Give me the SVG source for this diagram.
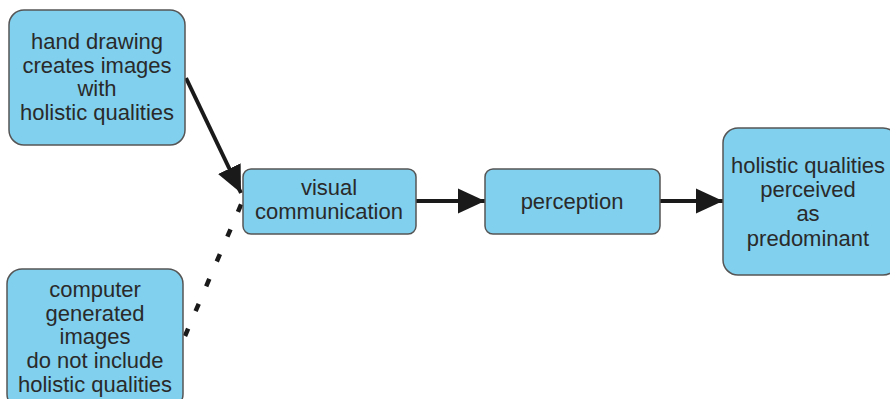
<svg xmlns="http://www.w3.org/2000/svg" width="890" height="399" viewBox="0 0 890 399">
<defs>
<style>
.box{fill:#80d0ee;stroke:#555;stroke-width:1.5}
text{font-family:"Liberation Sans",Arial,sans-serif;font-size:22px;fill:#2a2a2a;text-anchor:middle}
.ln{stroke:#1a1a1a;stroke-width:4;fill:none}
.dot{stroke:#1a1a1a;stroke-width:4.5;fill:none;stroke-dasharray:8 19}
</style>
<marker id="ah" markerUnits="userSpaceOnUse" markerWidth="28" markerHeight="28" viewBox="0 0 28 28" refX="27" refY="14" orient="auto">
<path d="M0,1.5 L27,14 L0,26.5 Z" fill="#1a1a1a"/>
</marker>
</defs>
<rect width="890" height="399" fill="#fff"/>
<g id="connectors">
<line class="ln" x1="186" y1="78" x2="241" y2="193" marker-end="url(#ah)"/>
<line class="dot" x1="185" y1="336" x2="243" y2="200"/>
<line class="ln" x1="416" y1="201" x2="485" y2="201" marker-end="url(#ah)"/>
<line class="ln" x1="660" y1="201" x2="723" y2="201" marker-end="url(#ah)"/>
</g>
<g id="hand">
<rect class="box" x="9" y="10" width="176" height="135" rx="15"/>
<text x="97" y="49">hand drawing</text>
<text x="97" y="73">creates images</text>
<text x="97" y="96">with</text>
<text x="97" y="120">holistic qualities</text>
</g>
<g id="computer">
<rect class="box" x="7" y="269" width="176" height="140" rx="15"/>
<text x="95" y="297">computer</text>
<text x="95" y="321">generated</text>
<text x="95" y="344">images</text>
<text x="95" y="368">do not include</text>
<text x="95" y="392">holistic qualities</text>
</g>
<g id="visual">
<rect class="box" x="243" y="169" width="173" height="65" rx="8"/>
<text x="329" y="195">visual</text>
<text x="329" y="219">communication</text>
</g>
<g id="perception">
<rect class="box" x="485" y="169" width="175" height="65" rx="8"/>
<text x="572" y="209">perception</text>
</g>
<g id="holistic">
<rect class="box" x="723" y="128" width="175" height="147" rx="15"/>
<text x="808" y="173">holistic qualities</text>
<text x="808" y="197">perceived</text>
<text x="808" y="221">as</text>
<text x="808" y="246">predominant</text>
</g>
</svg>
